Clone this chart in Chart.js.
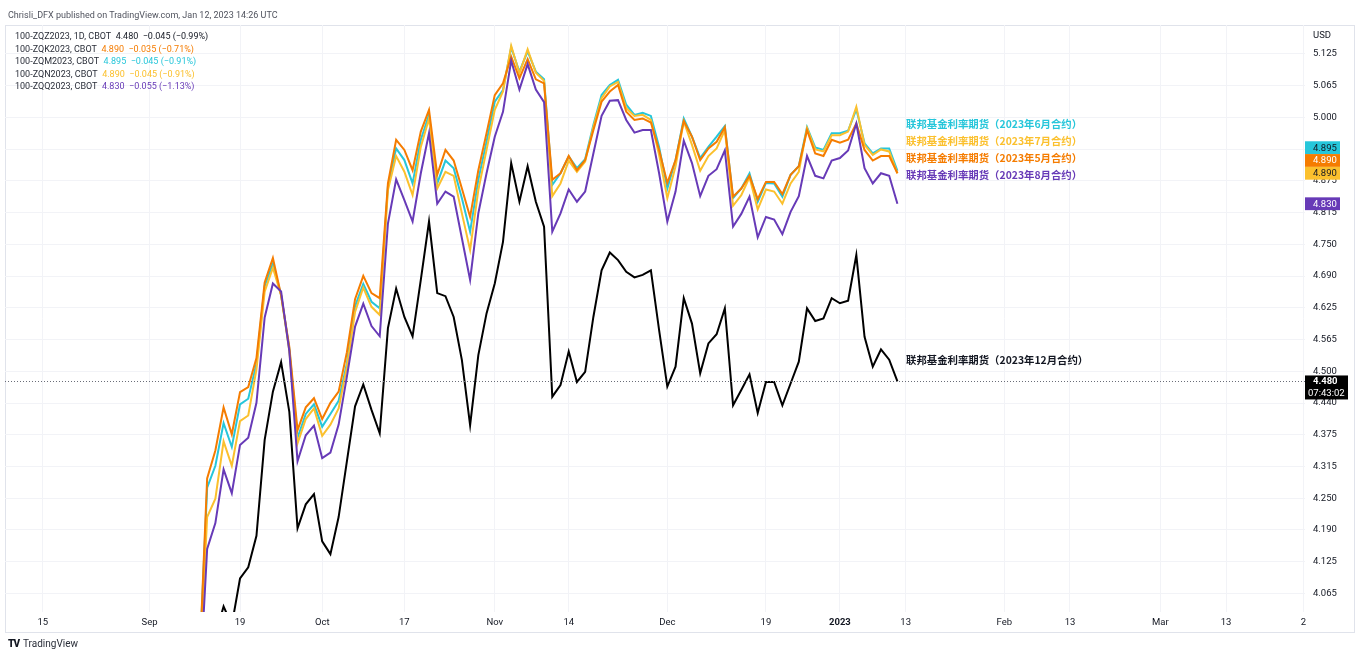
<!DOCTYPE html>
<html>
<head>
<meta charset="utf-8">
<script src="https://cdn.jsdelivr.net/npm/chart.js@4.4.0/dist/chart.umd.min.js"></script>
<style>
  html, body { margin: 0; padding: 0; background: #fff; }
  body { width: 1360px; height: 650px; position: relative; overflow: hidden; font-family: Roboto, "Noto Sans", sans-serif; }
  canvas { position: absolute; left: 0; top: 0; }
  .txt { position: absolute; white-space: nowrap; font-size: 9px; color: #131722; }
  #head { left: 8px; top: 10px; color: #50535e; }
  #legend { left: 15px; top: 30px; line-height: 12.5px; color: #2a2e39; }
  #usd { left: 1313px; top: 29px; font-size: 9.5px; }
  .note { position: absolute; left: 906px; font-family: "Noto Sans CJK SC", sans-serif; font-weight: bold; font-size: 10.4px; line-height: 12px; white-space: nowrap; }
  #foot { left: 8px; top: 638px; font-size: 10px; color: #2a2e39; }
  #foot b { font-weight: 900; letter-spacing: -1px; margin-right: 4px; color: #131722; }
</style>
</head>
<body>
<canvas id="myChart" width="1360" height="650"></canvas>
<div class="txt" id="head">Chrisli_DFX published on TradingView.com, Jan 12, 2023 14:26 UTC</div>
<div class="txt" id="legend">
  <div>100-ZQZ2023, 1D, CBOT&nbsp; <span style="color:#131722">4.480&nbsp; −0.045 (−0.99%)</span></div>
  <div>100-ZQK2023, CBOT&nbsp; <span style="color:#f57c00">4.890&nbsp; −0.035 (−0.71%)</span></div>
  <div>100-ZQM2023, CBOT&nbsp; <span style="color:#26c6da">4.895&nbsp; −0.045 (−0.91%)</span></div>
  <div>100-ZQN2023, CBOT&nbsp; <span style="color:#fbc02d">4.890&nbsp; −0.045 (−0.91%)</span></div>
  <div>100-ZQQ2023, CBOT&nbsp; <span style="color:#673ab7">4.830&nbsp; −0.055 (−1.13%)</span></div>
</div>
<div class="txt" id="usd">USD</div>
<div class="note" style="top:118px;color:#26c6da">联邦基金利率期货（2023年6月合约）</div>
<div class="note" style="top:135px;color:#fbc02d">联邦基金利率期货（2023年7月合约）</div>
<div class="note" style="top:152px;color:#f57c00">联邦基金利率期货（2023年5月合约）</div>
<div class="note" style="top:169px;color:#673ab7">联邦基金利率期货（2023年8月合约）</div>
<div class="note" style="top:354px;color:#131722">联邦基金利率期货（2023年12月合约）</div>
<div class="txt" id="foot"><b>TV</b>TradingView</div>
<script>
// bar numbers count trading days from Aug 15 2022; first drawn bar is Sep 12
const firstBar = 19;

// x axis ticks (bar number) and their labels
const xTickPos = [0, 13, 24, 34, 44, 55, 64, 76, 88, 97, 105, 117, 125, 136, 144, 153.4];
const xTickLabels = ['15', 'Sep', '19', 'Oct', '17', 'Nov', '14', 'Dec', '19', '2023', '13', 'Feb', '13', 'Mar', '13', '2'];

// y axis ticks and the labels TradingView prints for them
const yTickPos = [4.0625, 4.125, 4.1875, 4.25, 4.3125, 4.375, 4.4375, 4.5, 4.5625, 4.625,
                  4.6875, 4.75, 4.8125, 4.875, 4.9375, 5.0, 5.0625, 5.125];
const yTickLabels = ['4.065', '4.125', '4.190', '4.250', '4.315', '4.375', '4.440', '4.500', '4.565', '4.625',
                     '4.690', '4.750', '4.815', '4.875', '4.940', '5.000', '5.065', '5.125'];

// 100-ZQZ2023 (Dec 2023)
const zqz = [3.90, 3.93, 3.98, 4.037, 4.00, 4.092, 4.114, 4.176, 4.365, 4.460,
             4.518, 4.420, 4.191, 4.238, 4.258, 4.165, 4.140, 4.213, 4.322, 4.431,
             4.474, 4.424, 4.378, 4.585, 4.663, 4.607, 4.569, 4.680, 4.795, 4.654,
             4.648, 4.607, 4.522, 4.394, 4.532, 4.614, 4.673, 4.755, 4.910, 4.834,
             4.904, 4.834, 4.785, 4.450, 4.473, 4.539, 4.479, 4.499, 4.607, 4.699,
             4.734, 4.719, 4.696, 4.685, 4.690, 4.699, 4.581, 4.470, 4.509, 4.644,
             4.594, 4.496, 4.555, 4.573, 4.624, 4.433, 4.463, 4.494, 4.418, 4.479,
             4.479, 4.433, 4.476, 4.519, 4.624, 4.599, 4.604, 4.644, 4.634, 4.639,
             4.729, 4.568, 4.509, 4.543, 4.523, 4.480];

// 100-ZQK2023 (May 2023)
const zqk = [3.90, 4.289, 4.344, 4.429, 4.376, 4.459, 4.469, 4.526, 4.675, 4.723,
             4.650, 4.548, 4.384, 4.429, 4.447, 4.406, 4.438, 4.460, 4.537, 4.642,
             4.688, 4.654, 4.644, 4.870, 4.956, 4.936, 4.896, 4.972, 5.015, 4.887,
             4.936, 4.915, 4.860, 4.804, 4.896, 4.969, 5.044, 5.067, 5.120, 5.077,
             5.115, 5.075, 5.067, 4.877, 4.890, 4.924, 4.896, 4.916, 4.975, 5.031,
             5.051, 5.064, 5.011, 4.995, 4.998, 4.990, 4.936, 4.871, 4.916, 4.993,
             4.962, 4.916, 4.939, 4.952, 4.981, 4.844, 4.860, 4.885, 4.839, 4.873,
             4.873, 4.849, 4.887, 4.904, 4.975, 4.929, 4.924, 4.956, 4.950, 4.956,
             4.988, 4.936, 4.915, 4.924, 4.924, 4.890];

// 100-ZQM2023 (Jun 2023)
const zqm = [3.90, 4.271, 4.314, 4.398, 4.351, 4.435, 4.446, 4.515, 4.668, 4.712,
             4.650, 4.544, 4.369, 4.416, 4.435, 4.391, 4.416, 4.442, 4.515, 4.628,
             4.672, 4.637, 4.624, 4.864, 4.939, 4.916, 4.870, 4.956, 5.005, 4.870,
             4.915, 4.900, 4.841, 4.775, 4.877, 4.952, 5.031, 5.054, 5.138, 5.090,
             5.130, 5.090, 5.075, 4.867, 4.890, 4.923, 4.900, 4.918, 4.985, 5.044,
             5.064, 5.074, 5.025, 5.005, 5.009, 5.003, 4.942, 4.860, 4.916, 4.998,
             4.962, 4.920, 4.942, 4.962, 4.983, 4.841, 4.860, 4.890, 4.834, 4.871,
             4.870, 4.844, 4.887, 4.904, 4.981, 4.941, 4.936, 4.969, 4.969, 4.974,
             5.016, 4.949, 4.929, 4.939, 4.939, 4.895];

// 100-ZQN2023 (Jul 2023)
const zqn = [3.88, 4.213, 4.249, 4.362, 4.314, 4.402, 4.413, 4.504, 4.657, 4.704,
             4.650, 4.540, 4.358, 4.406, 4.427, 4.373, 4.395, 4.427, 4.508, 4.617,
             4.665, 4.627, 4.611, 4.857, 4.924, 4.893, 4.847, 4.942, 4.998, 4.860,
             4.893, 4.885, 4.811, 4.739, 4.857, 4.936, 5.015, 5.051, 5.141, 5.087,
             5.134, 5.088, 5.072, 4.845, 4.870, 4.915, 4.893, 4.913, 4.981, 5.038,
             5.061, 5.070, 5.018, 5.003, 5.005, 4.995, 4.926, 4.841, 4.904, 4.992,
             4.946, 4.895, 4.924, 4.939, 4.975, 4.826, 4.847, 4.882, 4.819, 4.858,
             4.854, 4.830, 4.870, 4.893, 4.979, 4.937, 4.933, 4.965, 4.965, 4.972,
             5.021, 4.946, 4.926, 4.937, 4.933, 4.890];

// 100-ZQQ2023 (Aug 2023)
const zqq = [3.85, 4.150, 4.201, 4.307, 4.260, 4.355, 4.369, 4.438, 4.606, 4.673,
             4.657, 4.540, 4.323, 4.374, 4.393, 4.329, 4.340, 4.395, 4.489, 4.588,
             4.633, 4.589, 4.569, 4.791, 4.878, 4.837, 4.795, 4.890, 4.969, 4.830,
             4.854, 4.844, 4.762, 4.680, 4.811, 4.890, 4.962, 5.011, 5.112, 5.055,
             5.105, 5.055, 5.030, 4.775, 4.811, 4.858, 4.834, 4.854, 4.929, 5.003,
             5.033, 5.034, 4.995, 4.970, 4.975, 4.975, 4.890, 4.795, 4.854, 4.954,
             4.910, 4.845, 4.885, 4.898, 4.935, 4.785, 4.810, 4.844, 4.764, 4.804,
             4.799, 4.770, 4.814, 4.845, 4.924, 4.885, 4.880, 4.915, 4.920, 4.935,
             4.988, 4.900, 4.870, 4.890, 4.885, 4.830];

const toPoints = arr => arr.map((v, i) => ({x: firstBar + i, y: v}));
const last = arr => arr[arr.length - 1];

// price tags on the right axis, top to bottom
const tags = [
    {value: last(zqm), bg: '#26c6da', fg: '#131722'},
    {value: last(zqk), bg: '#f57c00', fg: '#ffffff'},
    {value: last(zqn), bg: '#fbc02d', fg: '#131722'},
    {value: last(zqq), bg: '#673ab7', fg: '#ffffff'}
];

const tvExtras = {
    id: 'tvExtras',
    beforeDraw(chart) {
        const ctx = chart.ctx;
        ctx.save();
        ctx.strokeStyle = '#e0e3eb';
        ctx.lineWidth = 1;
        ctx.strokeRect(5.5, 25.5, 1349, 607);
        ctx.restore();
    },
    afterDatasetsDraw(chart) {
        const ctx = chart.ctx;
        const area = chart.chartArea;
        const y = Math.round(chart.scales.y.getPixelForValue(last(zqz))) + 0.5;
        ctx.save();
        ctx.strokeStyle = '#6a6d78';
        ctx.lineWidth = 1;
        ctx.setLineDash([1, 2]);
        ctx.beginPath();
        ctx.moveTo(area.left, y);
        ctx.lineTo(area.right, y);
        ctx.stroke();
        ctx.restore();
    },
    afterDraw(chart) {
        const ctx = chart.ctx;
        const ys = chart.scales.y;
        const left = chart.chartArea.right;
        const h = 12.8;
        ctx.save();
        ctx.font = '9.5px Roboto';
        ctx.textBaseline = 'middle';
        // push overlapping tags upwards
        const pos = tags.map(t => ys.getPixelForValue(t.value));
        for (let i = pos.length - 2; i >= 0; i--) {
            pos[i] = Math.min(pos[i], pos[i + 1] - h);
        }
        tags.forEach((t, i) => {
            ctx.fillStyle = t.bg;
            ctx.fillRect(left, pos[i] - h / 2, 35, h);
            ctx.fillStyle = t.fg;
            ctx.fillText(t.value.toFixed(3), left + 8, pos[i] + 0.5);
        });
        // main series tag with countdown
        const yb = ys.getPixelForValue(last(zqz));
        ctx.fillStyle = '#000000';
        ctx.fillRect(left, yb - 6, 43, 24);
        ctx.fillStyle = '#ffffff';
        ctx.font = 'bold 9.5px Roboto';
        ctx.fillText(last(zqz).toFixed(3), left + 8, yb + 0.5);
        ctx.font = '9.5px Roboto';
        ctx.fillText('07:43:02', left + 3, yb + 12);
        ctx.restore();
    }
};

const line = (data, color) => ({
    data: toPoints(data),
    borderColor: color,
    borderWidth: 2,
    pointRadius: 0,
    tension: 0,
    fill: false
});

new Chart(document.getElementById('myChart').getContext('2d'), {
    type: 'line',
    data: {
        datasets: [
            line(zqq, '#673ab7'),
            line(zqk, '#f57c00'),
            line(zqn, '#fbc02d'),
            line(zqm, '#26c6da'),
            line(zqz, '#000000')
        ]
    },
    options: {
        responsive: false,
        animation: false,
        devicePixelRatio: 1,
        layout: {padding: {left: 5, top: 25, right: 5, bottom: 17}},
        plugins: {legend: {display: false}, tooltip: {enabled: false}},
        scales: {
            x: {
                type: 'linear',
                min: -4.6,
                max: 153.6,
                afterBuildTicks: s => { s.ticks = xTickPos.map(v => ({value: v})); },
                afterFit: s => { s.height = 21; },
                grid: {color: '#f2f3f7', drawTicks: false},
                border: {display: false},
                ticks: {
                    autoSkip: false,
                    maxRotation: 0,
                    padding: 5,
                    color: '#131722',
                    font: c => ({family: 'Roboto', size: 9.5, weight: xTickLabels[c.index] === '2023' ? 'bold' : 'normal'}),
                    callback: (v, i) => xTickLabels[i]
                }
            },
            y: {
                type: 'linear',
                position: 'right',
                min: 4.026,
                max: 5.182,
                afterBuildTicks: s => { s.ticks = yTickPos.map(v => ({value: v})); },
                afterFit: s => { s.width = 50; },
                grid: {color: '#f2f3f7', drawTicks: false},
                border: {display: false},
                ticks: {
                    autoSkip: false,
                    padding: 8,
                    crossAlign: 'near',
                    color: '#131722',
                    font: {family: 'Roboto', size: 9.5},
                    callback: (v, i) => yTickLabels[i]
                }
            }
        }
    },
    plugins: [tvExtras]
});
</script>
</body>
</html>
